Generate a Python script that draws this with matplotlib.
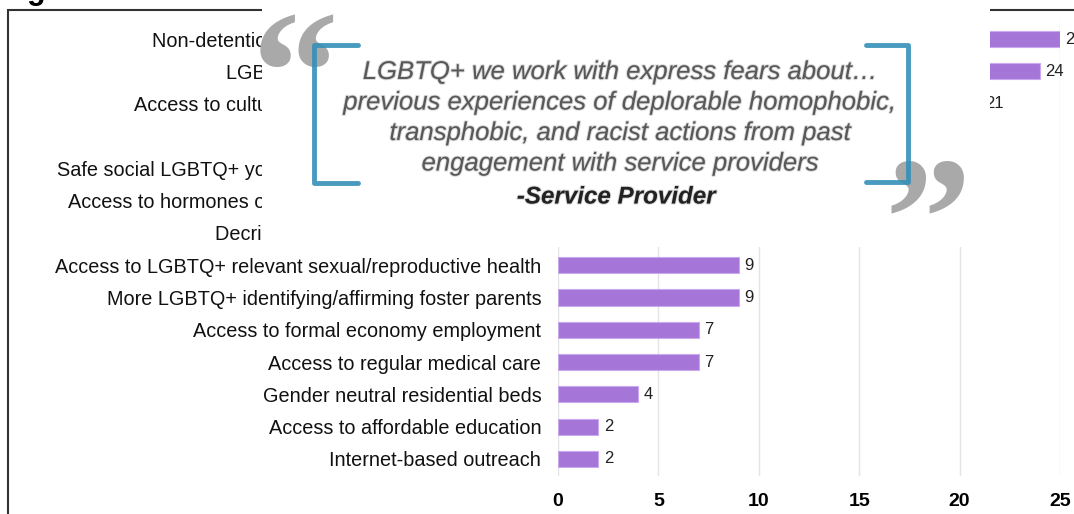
import matplotlib.pyplot as plt
import matplotlib.patheffects as pe
from matplotlib.patches import Rectangle

plt.rcParams['font.family'] = ['Liberation Sans', 'DejaVu Sans']

labels = [
    "Non-detention alternatives for LGBTQ youth",
    "LGBTQ+ affirming housing services",
    "Access to culturally competent health provider",
    "Peer support groups",
    "Safe social LGBTQ+ youth spaces and community hub",
    "Access to hormones or gender-affirming medical care",
    "Decriminalization of survival sex acts",
    "Access to LGBTQ+ relevant sexual/reproductive health",
    "More LGBTQ+ identifying/affirming foster parents",
    "Access to formal economy employment",
    "Access to regular medical care",
    "Gender neutral residential beds",
    "Access to affordable education",
    "Internet-based outreach",
]
counts = [25, 24, 21, 18, 15, 13, 11, 9, 9, 7, 7, 4, 2, 2]
xticks = [0, 5, 10, 15, 20, 25]

quote_lines = [
    "LGBTQ+ we work with express fears about\u2026",
    "previous experiences of deplorable homophobic,",
    "transphobic, and racist actions from past",
    "engagement with service providers",
]
quote_author = "-Service Provider"

W, H = 1074, 514
fig = plt.figure(figsize=(W / 100, H / 100), dpi=100)

# title, mostly above the top edge
fig.text(0.0, 1 + 1.5 / H, "Figure 10: Most Important Supports", fontsize=22,
         fontweight='bold', va='baseline', ha='left', zorder=1)

# outer frame
fig.add_artist(Rectangle((8 / W, -0.1), 1.2, 1 - 10 / H + 0.1, transform=fig.transFigure,
                         fill=False, edgecolor='#333333', linewidth=1.5, zorder=1))

ax = fig.add_axes([558 / W, 1 - 476 / H, (1060 - 558) / W, (476 - 22) / H])
y = list(range(len(labels)))
ax.barh(y, counts, height=0.5, color='#a576d8', edgecolor='#c9a9ee', linewidth=0.8, zorder=2)
for yi, v in zip(y, counts):
    ax.text(v + 0.28, yi, str(v), va='center', ha='left', fontsize=12,
            color='#222222', clip_on=False)

ax.set_xlim(0, 25)
ax.set_ylim(13.53, -0.53)
ax.set_yticks(y)
ax.set_yticklabels(labels, fontsize=14.3, color='#111111')
ax.set_xticks(xticks)
ax.set_xticklabels([str(t) for t in xticks], fontsize=14, fontweight='bold')
ax.tick_params(length=0)
ax.tick_params(axis='y', pad=12)
ax.tick_params(axis='x', pad=12)
ax.grid(axis='x', color='#e3e3e8', linewidth=1, zorder=0)
for s in ax.spines.values():
    s.set_visible(False)

# quote box laid over the upper part of the chart
x0, x1, yb = 262, 990, 247
qa = fig.add_axes([x0 / W, 1 - yb / H, (x1 - x0) / W, yb / H])
qa.set_zorder(10)
qa.set_xlim(x0, x1)
qa.set_ylim(yb, 0)
qa.axis('off')
qa.add_patch(Rectangle((x0, 0), x1 - x0, yb, facecolor='white', edgecolor='none', zorder=0))

blue = '#3490b8'
qa.plot([358, 314, 314, 358], [45, 45, 183, 183], color=blue, lw=3.5,
        solid_joinstyle='round', solid_capstyle='round', alpha=0.9)
qa.plot([866, 908, 908, 866], [45, 45, 182, 182], color=blue, lw=3.5,
        solid_joinstyle='round', solid_capstyle='round', alpha=0.9)

qa.text(295, 130, "\u201c", fontsize=125, fontweight='bold', family='Liberation Serif',
        color='#a9a9a9', ha='center', va='baseline', zorder=1)
qa.text(928, 276, "\u201d", fontsize=125, fontweight='bold', family='Liberation Serif',
        color='#a9a9a9', ha='center', va='baseline', zorder=1, clip_on=False)

soft = [pe.withStroke(linewidth=1.5, foreground='#9a9a9a', alpha=0.35)]
for i, line in enumerate(quote_lines):
    qa.text(621, 72 + i * 30.5, line, fontsize=18.5, style='italic', color='#585858',
            ha='center', va='center', path_effects=soft, zorder=3)
qa.text(616, 197, quote_author, fontsize=17.4, style='italic', fontweight='bold',
        color='#222222', ha='center', va='center', path_effects=soft, zorder=3)

fig.savefig('out.png', dpi=100)
